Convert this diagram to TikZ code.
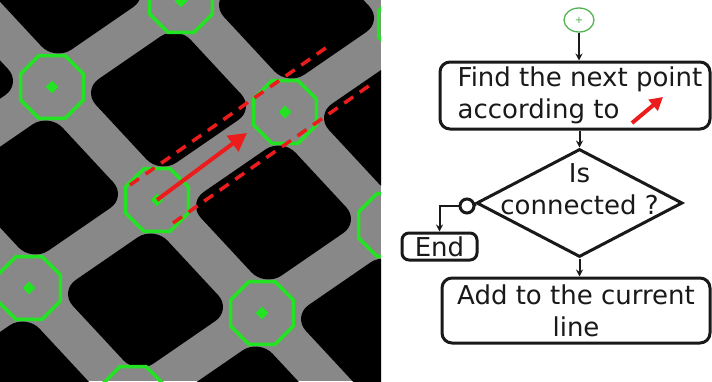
\documentclass[tikz,border=0pt]{standalone}
\usepackage{fontspec}
\setmainfont{DejaVu Sans}
\usetikzlibrary{shapes.geometric,arrows.meta,calc}
\definecolor{latgray}{RGB}{136,136,136}
\definecolor{octgreen}{RGB}{34,228,34}
\definecolor{linered}{RGB}{236,28,28}
\definecolor{startgreen}{RGB}{80,180,80}
\definecolor{inkc}{RGB}{25,25,25}

\begin{document}
\begin{tikzpicture}[x=1pt,y=-1pt,
  octa/.style={regular polygon, regular polygon sides=8, minimum size=68pt,
    inner sep=0pt, draw=octgreen, line width=3.5pt},
  octdot/.style={diamond, fill=octgreen, inner sep=0pt, minimum size=13pt},
  dashred/.style={draw=linered, line width=3.5pt, dash pattern=on 11pt off 8pt},
  redarrow/.style={draw=linered, line width=4pt,
    -{Triangle[length=18pt,width=19pt]}, fill=linered},
  iconarrow/.style={draw=linered, line width=4pt,
    -{Triangle[length=13pt,width=14pt]}, fill=linered},
  flowtext/.style={font=\fontsize{26pt}{32pt}\selectfont, text=inkc, inner sep=0pt},
  procbox/.style={flowtext, draw=inkc, line width=3pt, rounded corners=10pt},
  decision/.style={diamond, draw=inkc, line width=3pt, inner sep=0pt,
    minimum width=206pt, minimum height=108pt},
  joint/.style={circle, draw=inkc, line width=3pt, fill=white,
    minimum size=14pt, inner sep=0pt},
  startnode/.style={ellipse, draw=startgreen, line width=1.3pt, text=startgreen,
    minimum width=30pt, minimum height=24pt, inner sep=0pt,
    font=\fontsize{10pt}{10pt}\selectfont},
  flow/.style={draw=inkc, line width=2pt, -{Stealth[length=7pt,width=7pt]}},
  link/.style={draw=inkc, line width=2pt}
]
\useasboundingbox (0,0) rectangle (712,381);
\fill[white] (0,0) rectangle (712,381);

% ---- skeleton lattice with detected junctions ----
\begin{scope}
  \clip (0,0) rectangle (381,381);
  \fill[latgray] (0,0) rectangle (381,381);
  % black holes between the lattice bars
  \foreach \i in {-3,...,2}{
    \foreach \j in {-3,...,2}{
      \pgfmathsetmacro\cx{157+(\i+0.5)*128+(\j+0.5)*105}
      \pgfmathsetmacro\cy{200-(\i+0.5)*88+(\j+0.5)*113}
      \fill[black, rounded corners=20pt]
        (\cx+86.2,\cy+9.25) -- (\cx+8.5,\cy-74.4) --
        (\cx-86.2,\cy-9.25) -- (\cx-8.5,\cy+74.4) -- cycle;
    }
  }
  % junction markers
  \foreach \px/\py/\nm in {181/1/a, 52/87/b, 285/112/c, 157/200/d, 29/288/e,
                           262/313/f, 390/225/g, 410/24/h, 133/398/k}{
    \node[octa] (oct\nm) at (\px,\py) {};
    \node[octdot] (dot\nm) at (\px,\py) {};
  }
  % search corridor and direction
  \draw[dashred] (130,185) -- (330,45);
  \draw[dashred] (173,223) -- (373,83);
  \draw[redarrow] (dotd.center) -- (247,133);
\end{scope}

% ---- flowchart ----
\node[startnode] (start) at (579,20) {+};
\node[procbox, align=left, minimum width=270pt, minimum height=67pt]
  (find) at (575,95.5)
  {\hspace*{10pt}Find the next point\\\hspace*{10pt}according to\hspace*{48pt}};
\draw[iconarrow] (632,123) -- (663,97);

\node[decision] (dec) at (579.5,203) {};
\node[flowtext, align=center] (dectext) at (579.5,189.5) {Is\\connected ?};

\node[joint] (joint) at (467,206) {};
\node[procbox, rounded corners=7pt, minimum width=75pt, minimum height=27pt]
  (endbox) at (439.5,246.5) {End};

\node[procbox, align=center, minimum width=268pt, minimum height=65pt]
  (add) at (576,310.5) {Add to the current\\line};

\draw[flow] (start.south) -- (start.south |- find.north);
\draw[flow] (find.south -| dec.north) -- (dec.north);
\draw[flow] (dec.south) -- (dec.south |- add.north);
\draw[link] (dec.west) -- (joint.east);
\draw[flow] (joint.west) -| (endbox.north);
\end{tikzpicture}
\end{document}
